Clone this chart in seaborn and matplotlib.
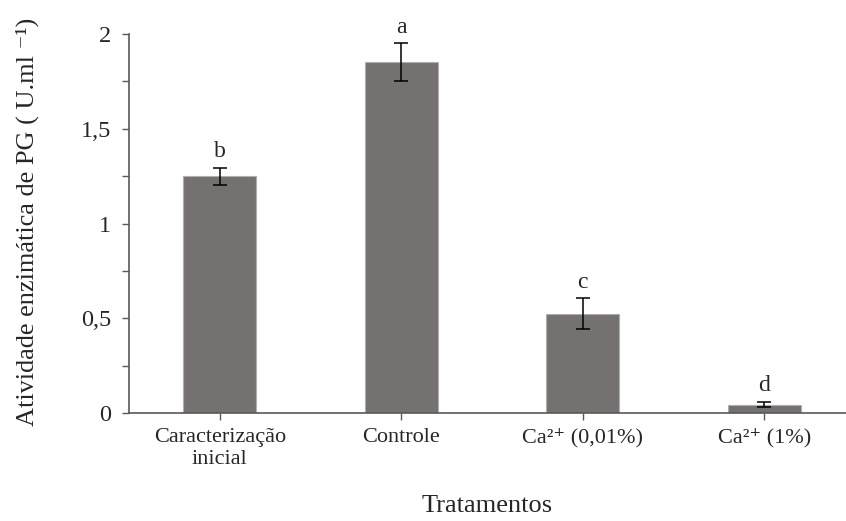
import numpy as np
import pandas as pd
import seaborn as sns
import matplotlib.pyplot as plt
from matplotlib.ticker import MultipleLocator, FixedFormatter, FixedLocator

tratamentos = ['Caracterização\ninicial', 'Controle', 'Ca²⁺ (0,01%)', 'Ca²⁺ (1%)']
atividade = [1.25, 1.85, 0.525, 0.045]
erro = [0.045, 0.10, 0.08, 0.013]
letras = ['b', 'a', 'c', 'd']
yticks = [0, 0.5, 1, 1.5, 2]
ytick_labels = ['0', '0,5', '1', '1,5', '2']

sns.set_style('ticks')
plt.rcParams['font.family'] = ['Liberation Serif', 'DejaVu Serif']

df = pd.DataFrame({'trat': tratamentos, 'pg': atividade})

fig = plt.figure(figsize=(8.46, 5.21), dpi=100)
ax = fig.add_axes([0.1525, 0.207, 0.8475, 0.728])

sns.barplot(data=df, x='trat', y='pg', color='#767171', saturation=1,
            width=0.4, edgecolor='#b0adad', linewidth=0.8, ax=ax)
ax.errorbar(np.arange(len(atividade)), atividade, yerr=erro, fmt='none',
            ecolor='black', elinewidth=1.1, capsize=4.7, capthick=1.1)

# letras de significancia acima das barras
for i, (v, e, l) in enumerate(zip(atividade, erro, letras)):
    ax.text(i, v + e + 0.03, l, ha='center', va='bottom', fontsize=17)

ax.set_ylim(0, 2)
ax.set_xlim(-0.5, 3.45)
ax.yaxis.set_major_locator(FixedLocator(yticks))
ax.yaxis.set_major_formatter(FixedFormatter(ytick_labels))
ax.yaxis.set_minor_locator(MultipleLocator(0.25))
ax.tick_params(axis='both', which='both', length=5, width=1, color='#595959',
               direction='out')
ax.tick_params(axis='y', pad=8, labelsize=17.5)
ax.tick_params(axis='x', pad=6, labelsize=16)
for t in ax.get_xticklabels():
    t.set_linespacing(1.15)

for s in ['top', 'right']:
    ax.spines[s].set_visible(False)
for s in ['left', 'bottom']:
    ax.spines[s].set_color('#595959')
    ax.spines[s].set_linewidth(1.2)

ax.set_xlabel('Tratamentos', fontsize=19, labelpad=19)
ax.set_ylabel('Atividade enzimática de PG ( U.ml ⁻¹)', fontsize=18.9)
ax.yaxis.set_label_coords(-0.125, 0.505)

fig.savefig('out.png', dpi=100)
